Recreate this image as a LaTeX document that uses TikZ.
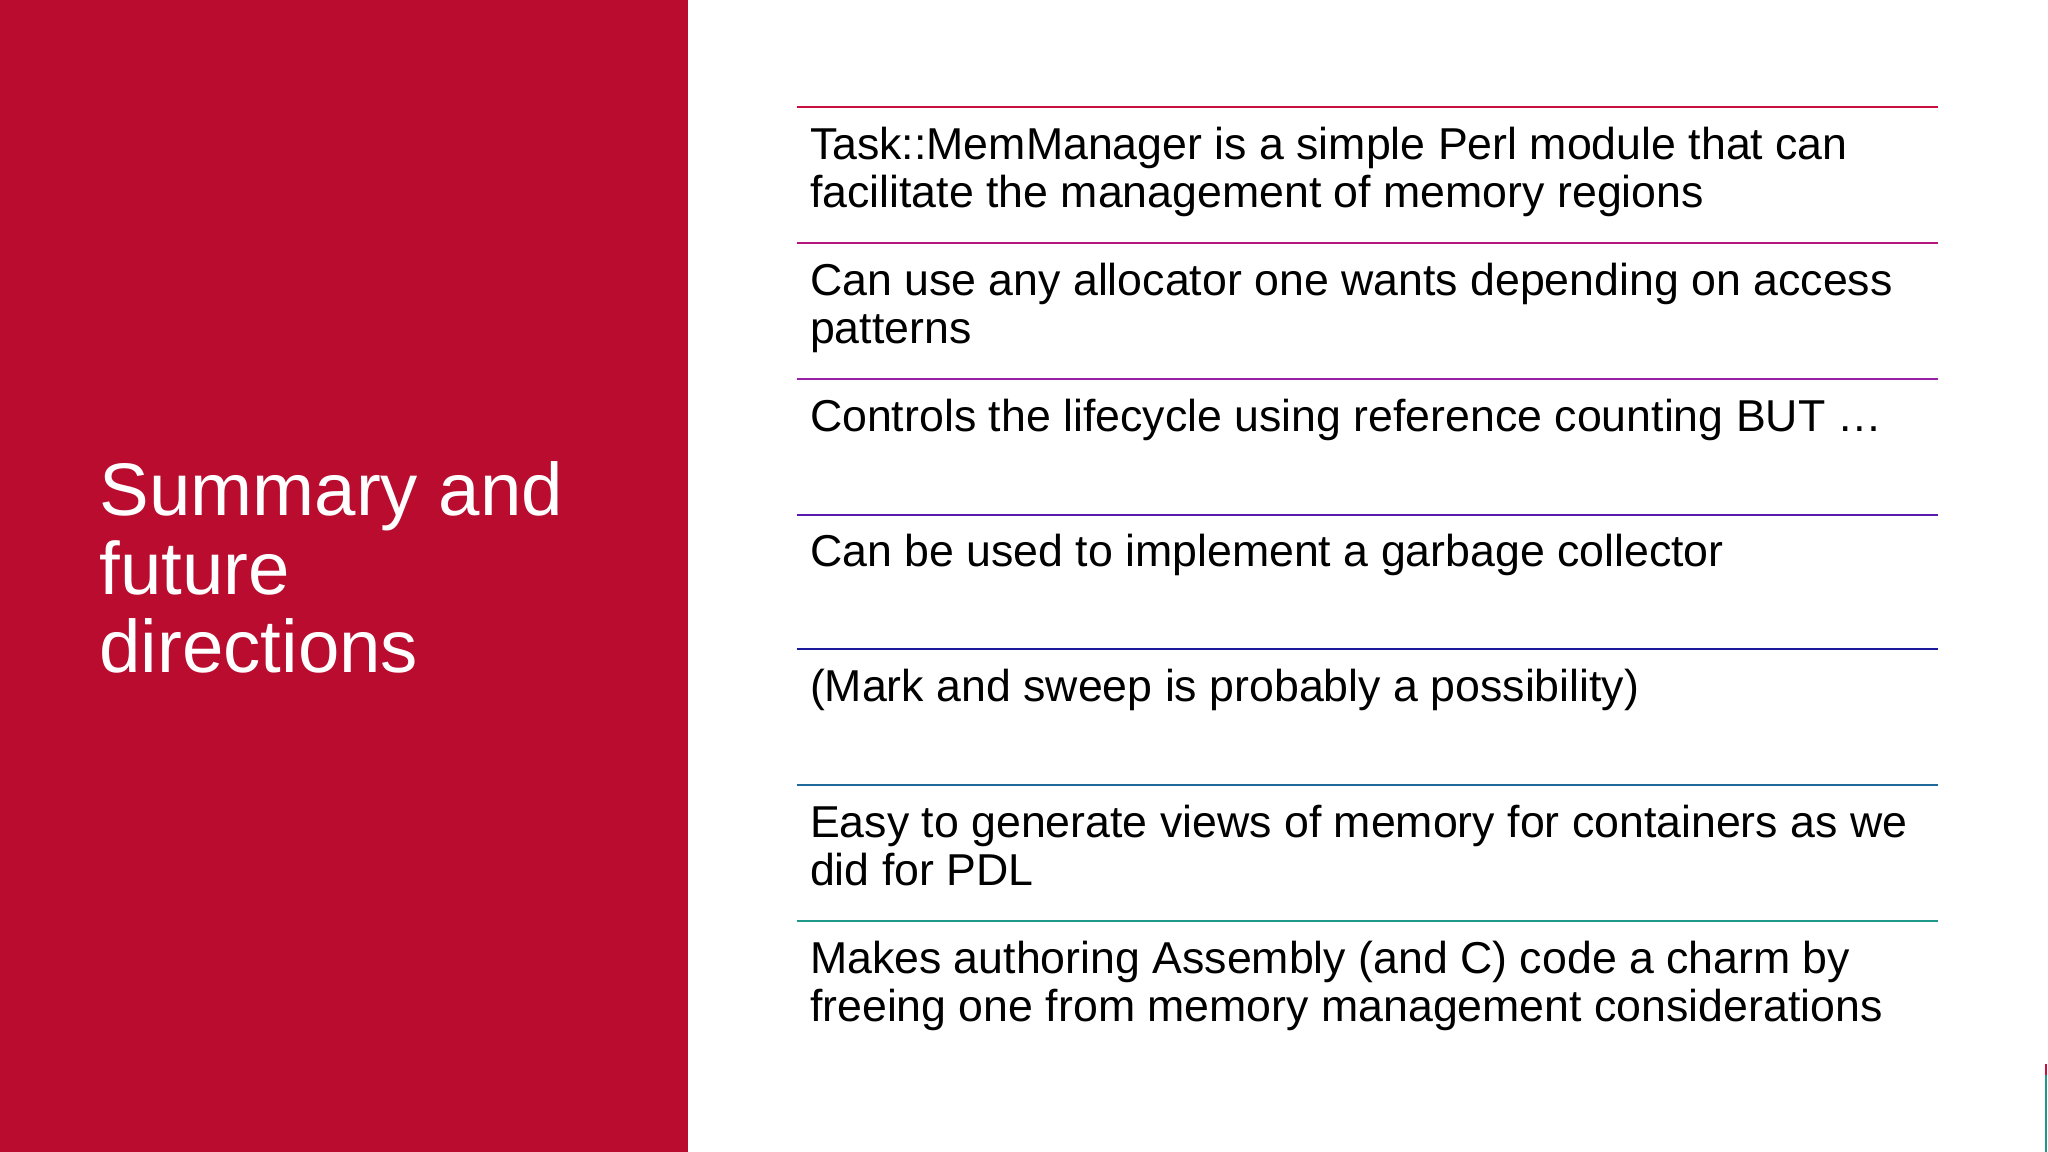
\documentclass[tikz,border=0pt]{standalone}
\usepackage{fontspec}
\setmainfont{Liberation Sans}
\definecolor{panel}{HTML}{BA0C2F}
\definecolor{c1}{HTML}{C8103E}
\definecolor{c2}{HTML}{B5167E}
\definecolor{c3}{HTML}{9A1FA8}
\definecolor{c4}{HTML}{5A1AAE}
\definecolor{c5}{HTML}{1C1A9A}
\definecolor{c6}{HTML}{1F6A9A}
\definecolor{c7}{HTML}{1F9A8A}
\tikzset{sep/.style={line width=1.6pt},
 item/.style={anchor=base west,inner sep=0pt,font=\fontsize{34.2}{37}\selectfont,align=left},
 title/.style={anchor=base west,inner sep=0pt,text=white,font=\fontsize{57}{60}\selectfont,align=left}}
\begin{document}
\begin{tikzpicture}[x=1pt,y=-1pt]
\useasboundingbox (0,0) rectangle (1568,882);
\fill[white] (0,0) rectangle (1568,882);
\fill[panel] (0,0) rectangle (527,882);
\node[title] (t) at (76,515) {Summary and\\future\\directions};
\foreach \y/\c [count=\i] in {82/c1,186/c2,290/c3,394/c4,497/c5,601/c6,705/c7}{
  \coordinate (l\i a) at (610,\y); \coordinate (l\i b) at (1484,\y);
  \draw[sep,\c] (l\i a) -- (l\i b);
}
\node[item] (i1) at (620,159) {Task::MemManager is a simple Perl module that can\\facilitate the management of memory regions};
\node[item] (i2) at (620,263) {Can use any allocator one wants depending on access\\patterns};
\node[item] (i3) at (620,330) {Controls the lifecycle using reference counting BUT …};
\node[item] (i4) at (620,434) {Can be used to implement a garbage collector};
\node[item] (i5) at (620,537) {(Mark and sweep is probably a possibility)};
\node[item] (i6) at (620,678) {Easy to generate views of memory for containers as we\\did for PDL};
\node[item] (i7) at (620,782) {Makes authoring Assembly (and C) code a charm by\\freeing one from memory management considerations};
\coordinate (e1) at (1566.5,815); \coordinate (e2) at (1566.5,823); \coordinate (e3) at (1566.5,882);
\draw[line width=1.2pt,c1] (e1) -- (e2);
\draw[line width=1.2pt,c7] (e2) -- (e3);
\end{tikzpicture}
\end{document}
